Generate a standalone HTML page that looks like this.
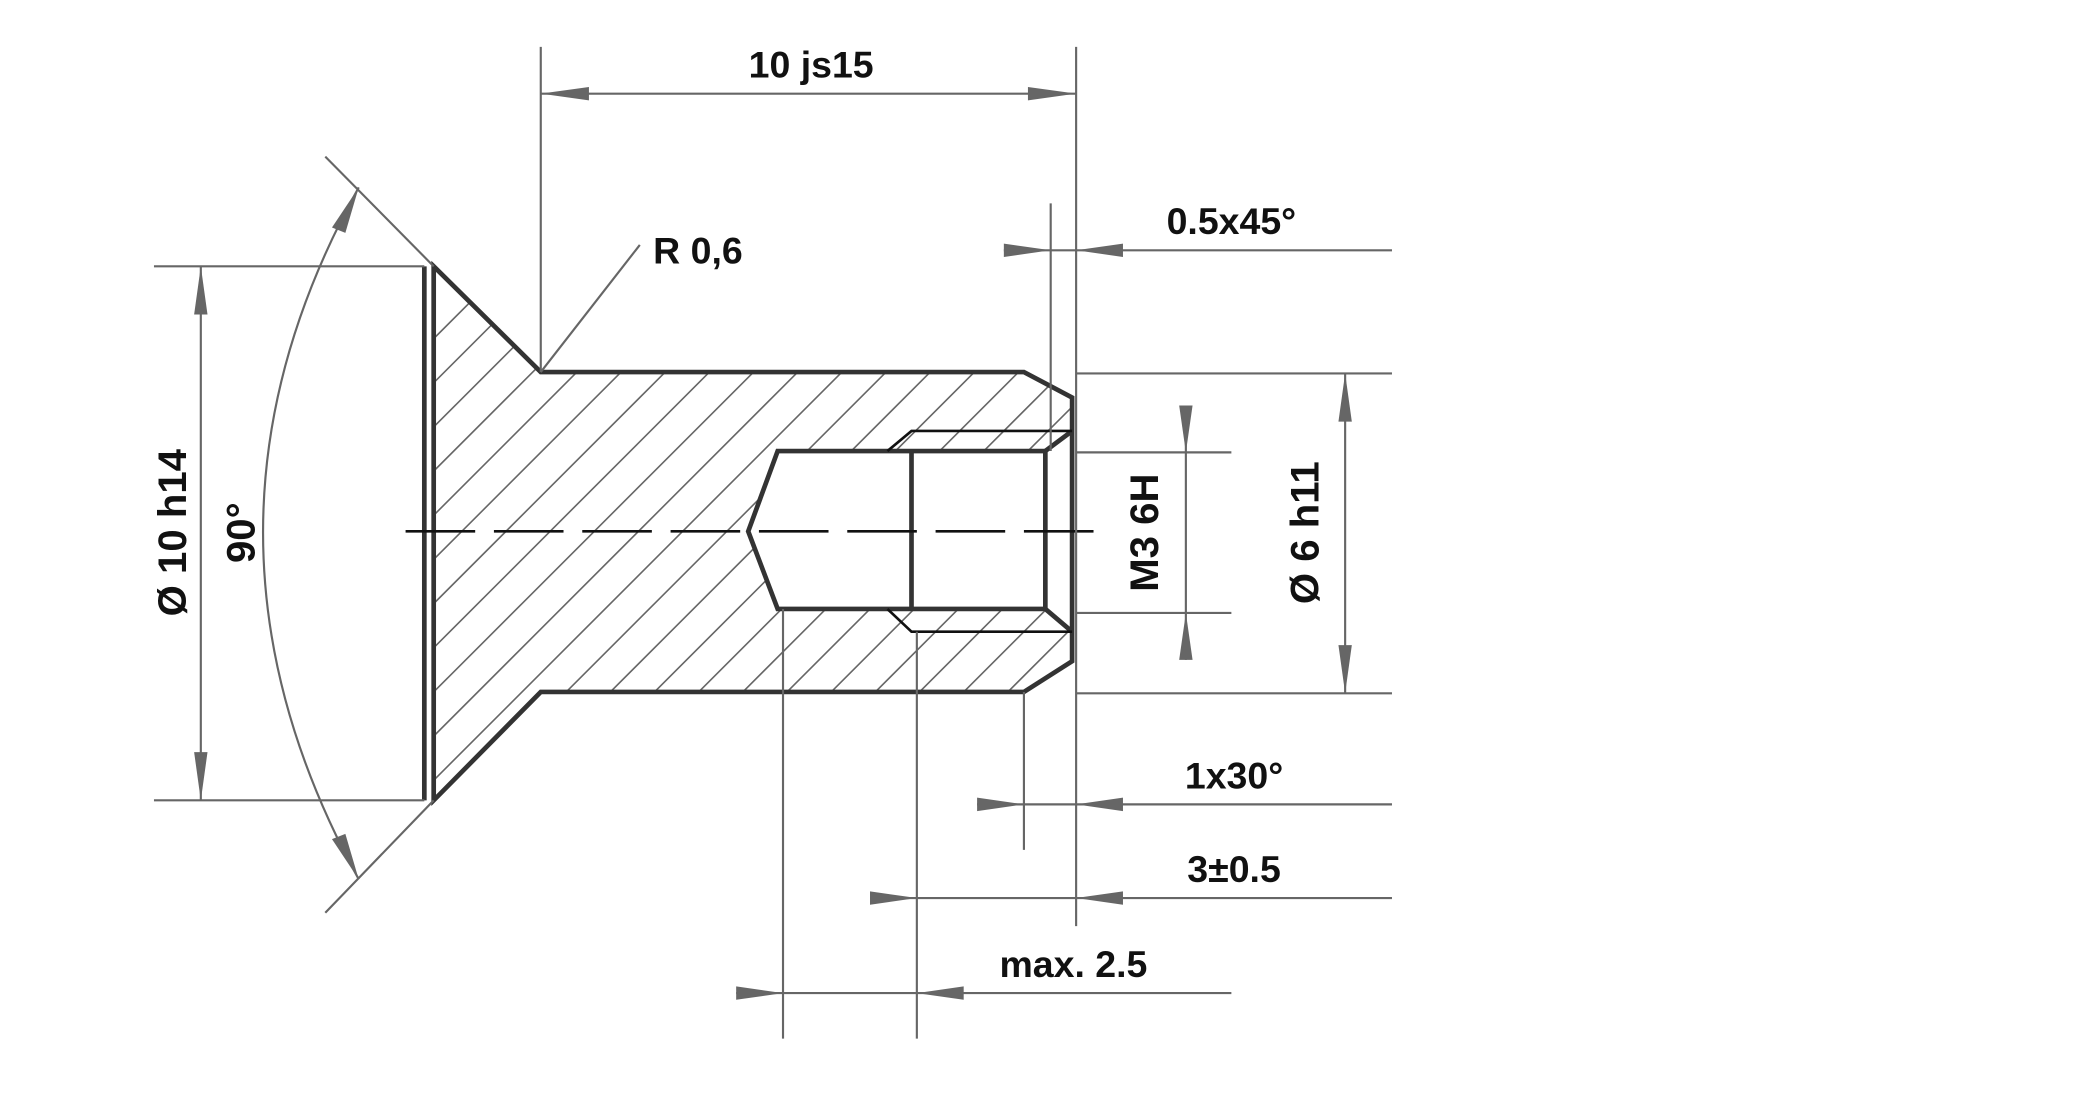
<!DOCTYPE html>
<html><head><meta charset="utf-8"><style>html,body{margin:0;padding:0;background:#fff}svg{display:block}</style></head>
<body>
<svg width="2088" height="1094" viewBox="0 0 1560 817.4" xmlns="http://www.w3.org/2000/svg" font-family="Liberation Sans, Arial, sans-serif" font-weight="bold">
<defs>
<clipPath id="c"><path clip-rule="evenodd" d="M324,199 L404,278 L765,278 L801,297 L801,494 L765,517 L404,517 L324,598 Z M581,337 L781,337 L801,322 L801,472 L781,455 L581,455 L559,397 Z"/></clipPath>
</defs>
<g clip-path="url(#c)" stroke="#666" stroke-width="1.2">
<path d="M300,640 L760,180 M333,640 L793,180 M366,640 L826,180 M399,640 L859,180 M432,640 L892,180 M465,640 L925,180 M498,640 L958,180 M531,640 L991,180 M564,640 L1024,180 M597,640 L1057,180 M630,640 L1090,180 M663,640 L1123,180 M696,640 L1156,180 M729,640 L1189,180 M762,640 L1222,180 M795,640 L1255,180 M267,640 L727,180 M234,640 L694,180 M201,640 L661,180 M168,640 L628,180 M135,640 L595,180 M102,640 L562,180 M69,640 L529,180 M36,640 L496,180 M3,640 L463,180 M-30,640 L430,180 M-63,640 L397,180"/>
</g>
<g fill="none" stroke="#333" stroke-width="3.5" stroke-linejoin="miter">
<path d="M324,199 L404,278 L765,278 L801,297 L801,494 L765,517 L404,517 L324,598 Z"/>
<line x1="317" y1="199" x2="317" y2="598"/>
<path d="M581,337 L781,337 L781,455 L581,455 L559,397 Z"/>
<line x1="681" y1="337" x2="681" y2="455"/>
<line x1="781" y1="337" x2="801" y2="322"/>
<line x1="781" y1="455" x2="801" y2="472"/>
</g>
<g fill="none" stroke="#111" stroke-width="2">
<path d="M663,337 L681,322 L801,322"/>
<path d="M663,455 L681,472 L801,472"/>
<path d="M303,397 L828,397" stroke-dasharray="52,14"/>
</g>
<g fill="none" stroke="#666" stroke-width="1.6">
<line x1="404" y1="35" x2="404" y2="278"/>
<line x1="804" y1="35" x2="804" y2="692"/>
<line x1="404" y1="70" x2="804" y2="70"/>
<line x1="115" y1="199" x2="317" y2="199"/>
<line x1="115" y1="598" x2="317" y2="598"/>
<line x1="150" y1="199" x2="150" y2="598"/>
<line x1="243" y1="117" x2="324" y2="199"/>
<line x1="243" y1="682" x2="324" y2="598"/>
<path d="M268,140 Q125,397 268,657"/>
<line x1="404" y1="278" x2="478" y2="183"/>
<line x1="785" y1="152" x2="785" y2="337"/>
<line x1="750" y1="187" x2="1040" y2="187"/>
<line x1="804" y1="279" x2="1040" y2="279"/>
<line x1="804" y1="518" x2="1040" y2="518"/>
<line x1="1005" y1="279" x2="1005" y2="518"/>
<line x1="804" y1="338" x2="920" y2="338"/>
<line x1="804" y1="458" x2="920" y2="458"/>
<line x1="886" y1="303" x2="886" y2="493"/>
<line x1="765" y1="517" x2="765" y2="635"/>
<line x1="730" y1="601" x2="1040" y2="601"/>
<line x1="685" y1="472" x2="685" y2="776"/>
<line x1="650" y1="671" x2="1040" y2="671"/>
<line x1="585" y1="455" x2="585" y2="776"/>
<line x1="550" y1="742" x2="920" y2="742"/>
</g>
<g fill="#666">
<polygon points="404,70 440,65 440,75"/><polygon points="804,70 768,65 768,75"/>
<polygon points="150,199 145,235 155,235"/><polygon points="150,598 145,562 155,562"/>
<polygon points="268,140 248,170 258,174"/><polygon points="268,657 248,627 258,623"/>
<polygon points="785,187 750,182 750,192"/><polygon points="804,187 839,182 839,192"/>
<polygon points="1005,279 1000,315 1010,315"/><polygon points="1005,518 1000,482 1010,482"/>
<polygon points="886,338 881,303 891,303"/><polygon points="886,458 881,493 891,493"/>
<polygon points="765,601 730,596 730,606"/><polygon points="804,601 839,596 839,606"/>
<polygon points="685,671 650,666 650,676"/><polygon points="804,671 839,666 839,676"/>
<polygon points="585,742 550,737 550,747"/><polygon points="685,742 720,737 720,747"/>
</g>
<g fill="#111" font-size="28">
<text x="606" y="58" text-anchor="middle">10 js15</text>
<text x="488" y="197">R 0,6</text>
<text x="920" y="175" text-anchor="middle">0.5x45°</text>
<text x="922" y="589" text-anchor="middle">1x30°</text>
<text x="922" y="659" text-anchor="middle">3±0.5</text>
<text x="802" y="730" text-anchor="middle">max. 2.5</text>
</g>
<g fill="#111" font-size="30">
<text transform="translate(139,398) rotate(-90)" text-anchor="middle">Ø 10 h14</text>
<text transform="translate(190,398) rotate(-90)" text-anchor="middle">90°</text>
<text transform="translate(865,398) rotate(-90)" text-anchor="middle">M3 6H</text>
<text transform="translate(985,398) rotate(-90)" text-anchor="middle">Ø 6 h11</text>
</g>
</svg>
</body></html>
